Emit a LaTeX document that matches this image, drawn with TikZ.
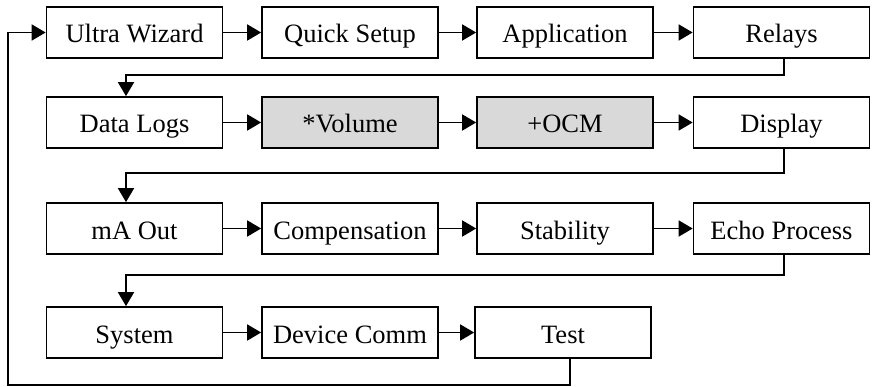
\documentclass[tikz,border=0pt]{standalone}
\usepackage{fontspec}
\setmainfont{Liberation Serif}
\usetikzlibrary{arrows.meta}
\definecolor{boxgray}{HTML}{D9D9D9}
\begin{document}
\begin{tikzpicture}[x=1pt,y=-1pt,
  menubox/.style={draw=black, line width=1.7pt, fill=white, minimum width=176pt, minimum height=51pt, inner sep=0pt, text height=24pt, text depth=3pt, font=\fontsize{26.5}{30}\selectfont},
  graybox/.style={menubox, fill=boxgray},
  arr/.style={line width=1.7pt, -{Triangle[length=14pt,width=16pt]}},
  link/.style={line width=1.7pt}]
\useasboundingbox (0,0) rectangle (874,387);
% rows
\node[menubox] (ultra) at (134.5,32.5) {Ultra Wizard};
\node[menubox] (quick) at (350,32.5) {Quick Setup};
\node[menubox] (appl) at (565,32.5) {Application};
\node[menubox] (relays) at (781.5,32.5) {Relays};
\node[menubox] (datalogs) at (134.5,122.5) {Data Logs};
\node[graybox] (volume) at (350,122.5) {*Volume};
\node[graybox] (ocm) at (565,122.5) {+OCM};
\node[menubox] (display) at (781.5,122.5) {Display};
\node[menubox] (maout) at (134.5,228.5) {mA Out};
\node[menubox] (comp) at (350,228.5) {Compensation};
\node[menubox] (stab) at (565,228.5) {Stability};
\node[menubox] (echo) at (781.5,228.5) {Echo Process};
\node[menubox] (system) at (134.5,332.5) {System};
\node[menubox] (devcomm) at (350,332.5) {Device Comm};
\node[menubox] (test) at (563,332.5) {Test};
% helper coordinates
\coordinate (cr) at (784,0);
\coordinate (cl) at (126,0);
\coordinate (ct) at (570,0);
\coordinate (g1) at (0,75);
\coordinate (g2) at (0,173);
\coordinate (g3) at (0,275);
\coordinate (ret) at (8,385);
% horizontal arrows
\draw[arr] (ultra) -- (quick);
\draw[arr] (quick) -- (appl);
\draw[arr] (appl) -- (relays);
\draw[arr] (datalogs) -- (volume);
\draw[arr] (volume) -- (ocm);
\draw[arr] (ocm) -- (display);
\draw[arr] (maout) -- (comp);
\draw[arr] (comp) -- (stab);
\draw[arr] (stab) -- (echo);
\draw[arr] (system) -- (devcomm);
\draw[arr] (devcomm) -- (test);
% row wraps
\draw[arr] (relays.south -| cr) |- (g1 -| cl) -- (datalogs.north -| cl);
\draw[arr] (display.south -| cr) |- (g2 -| cl) -- (maout.north -| cl);
\draw[arr] (echo.south -| cr) |- (g3 -| cl) -- (system.north -| cl);
% return
\draw[arr] (test.south -| ct) |- (ret) |- (ultra.west);
\end{tikzpicture}
\end{document}
